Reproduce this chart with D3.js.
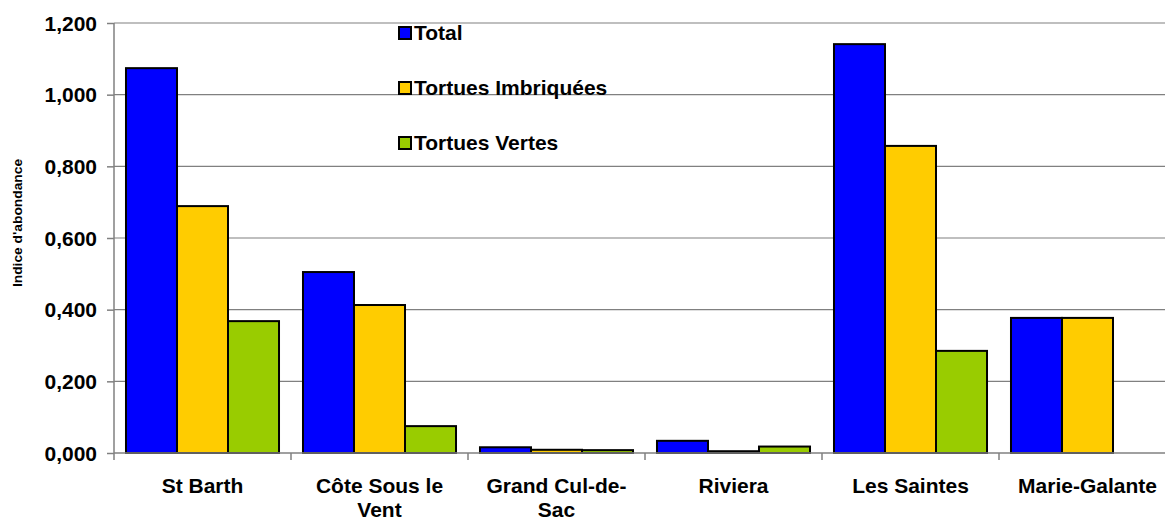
<!DOCTYPE html>
<html><head><meta charset="utf-8">
<script src="https://cdn.jsdelivr.net/npm/d3@7"></script>
<style>
body{margin:0;background:#fff;}
text{font-family:"Liberation Sans",Arial,sans-serif;font-weight:bold;fill:#000;}
</style></head>
<body><svg id="c" width="1165" height="521"></svg>
<script>
const categories = [["St Barth"],["Côte Sous le","Vent"],["Grand Cul-de-","Sac"],["Riviera"],["Les Saintes"],["Marie-Galante"]];
const seriesNames = ["Total","Tortues Imbriquées","Tortues Vertes"];
const total = [1.074, 0.505, 0.016, 0.034, 1.141, 0.377];
const imbriquees = [0.689, 0.413, 0.009, 0.005, 0.857, 0.377];
const vertes = [0.368, 0.075, 0.008, 0.018, 0.285, null];
const yTicks = [0, 0.2, 0.4, 0.6, 0.8, 1.0, 1.2];
const colors = ["#0000FF","#FFCC00","#99CC00"];
const series = [total, imbriquees, vertes];

(function(){
const svg = d3.select("#c");
const pL = 114, pR = 1176, pT = 23, pB = 453;
const x = d3.scaleBand().domain(d3.range(categories.length)).range([pL, pR]).paddingInner(0).paddingOuter(0);
const xs = d3.scaleBand().domain(d3.range(series.length)).range([0, x.bandwidth()]).paddingOuter(0.235).paddingInner(0);
const y = d3.scaleLinear().domain([0, 1.2]).range([pB, pT]);
const fmt = d => d3.format(".3f")(d).replace(".", ",");

// gridlines
svg.append("g").selectAll("line").data(yTicks.slice(1)).join("line")
  .attr("x1", pL).attr("x2", pR).attr("y1", d => y(d)).attr("y2", d => y(d))
  .attr("stroke", "#808080").attr("stroke-width", 1.2);

// bars
series.forEach((s, si) => {
  svg.append("g").selectAll("rect").data(s.map((v, i) => ({v, i})).filter(d => d.v != null)).join("rect")
    .attr("x", d => x(d.i) + xs(si)).attr("width", xs.bandwidth())
    .attr("y", d => y(d.v)).attr("height", d => y(0) - y(d.v))
    .attr("fill", colors[si]).attr("stroke", "#000").attr("stroke-width", 2);
});

// y axis
const ya = svg.append("g").attr("transform", `translate(${pL},0)`)
  .call(d3.axisLeft(y).tickValues(yTicks).tickSize(7).tickPadding(10).tickFormat(fmt));
ya.selectAll("path,line").attr("stroke", "#808080").attr("stroke-width", 1.5);
ya.select(".domain").attr("d", `M0,${pB}V${pT}`);
ya.selectAll("text").attr("font-size", 20).attr("font-family", "Liberation Sans").attr("font-weight", "bold")
  .attr("dy", "0.36em").attr("x", -17 / 1.05).attr("transform", "scale(1.05,1)");

// x axis
const xa = svg.append("g").attr("transform", `translate(0,${pB})`);
xa.append("line").attr("x1", pL).attr("x2", pR).attr("y1", 0).attr("y2", 0).attr("stroke", "#808080").attr("stroke-width", 1.5);
xa.selectAll("line.tk").data(d3.range(categories.length + 1)).join("line").attr("class", "tk")
  .attr("x1", i => pL + i * x.step()).attr("x2", i => pL + i * x.step())
  .attr("y1", 0).attr("y2", 7).attr("stroke", "#808080").attr("stroke-width", 1.5);
categories.forEach((lines, i) => {
  const cx = x(i) + x.bandwidth() / 2;
  lines.forEach((ln, li) => {
    svg.append("text").attr("transform", `translate(${cx},${493 + li * 24}) scale(1.05,1)`)
      .attr("text-anchor", "middle").attr("font-size", 20).text(ln);
  });
});

// y title
svg.append("text").attr("transform", "translate(22,223) rotate(-90) scale(1.15,1)")
  .attr("text-anchor", "middle").attr("font-size", 12).text("Indice d'abondance");

// legend
const lg = svg.append("g");
seriesNames.forEach((n, i) => {
  const yy = 27 + i * 55;
  lg.append("rect").attr("x", 399).attr("y", yy).attr("width", 12).attr("height", 12)
    .attr("fill", colors[i]).attr("stroke", "#000").attr("stroke-width", 2);
  lg.append("text").attr("transform", `translate(414,${yy + 12.5}) scale(1.05,1)`).attr("font-size", 20).text(n);
});
})();
</script></body></html>
